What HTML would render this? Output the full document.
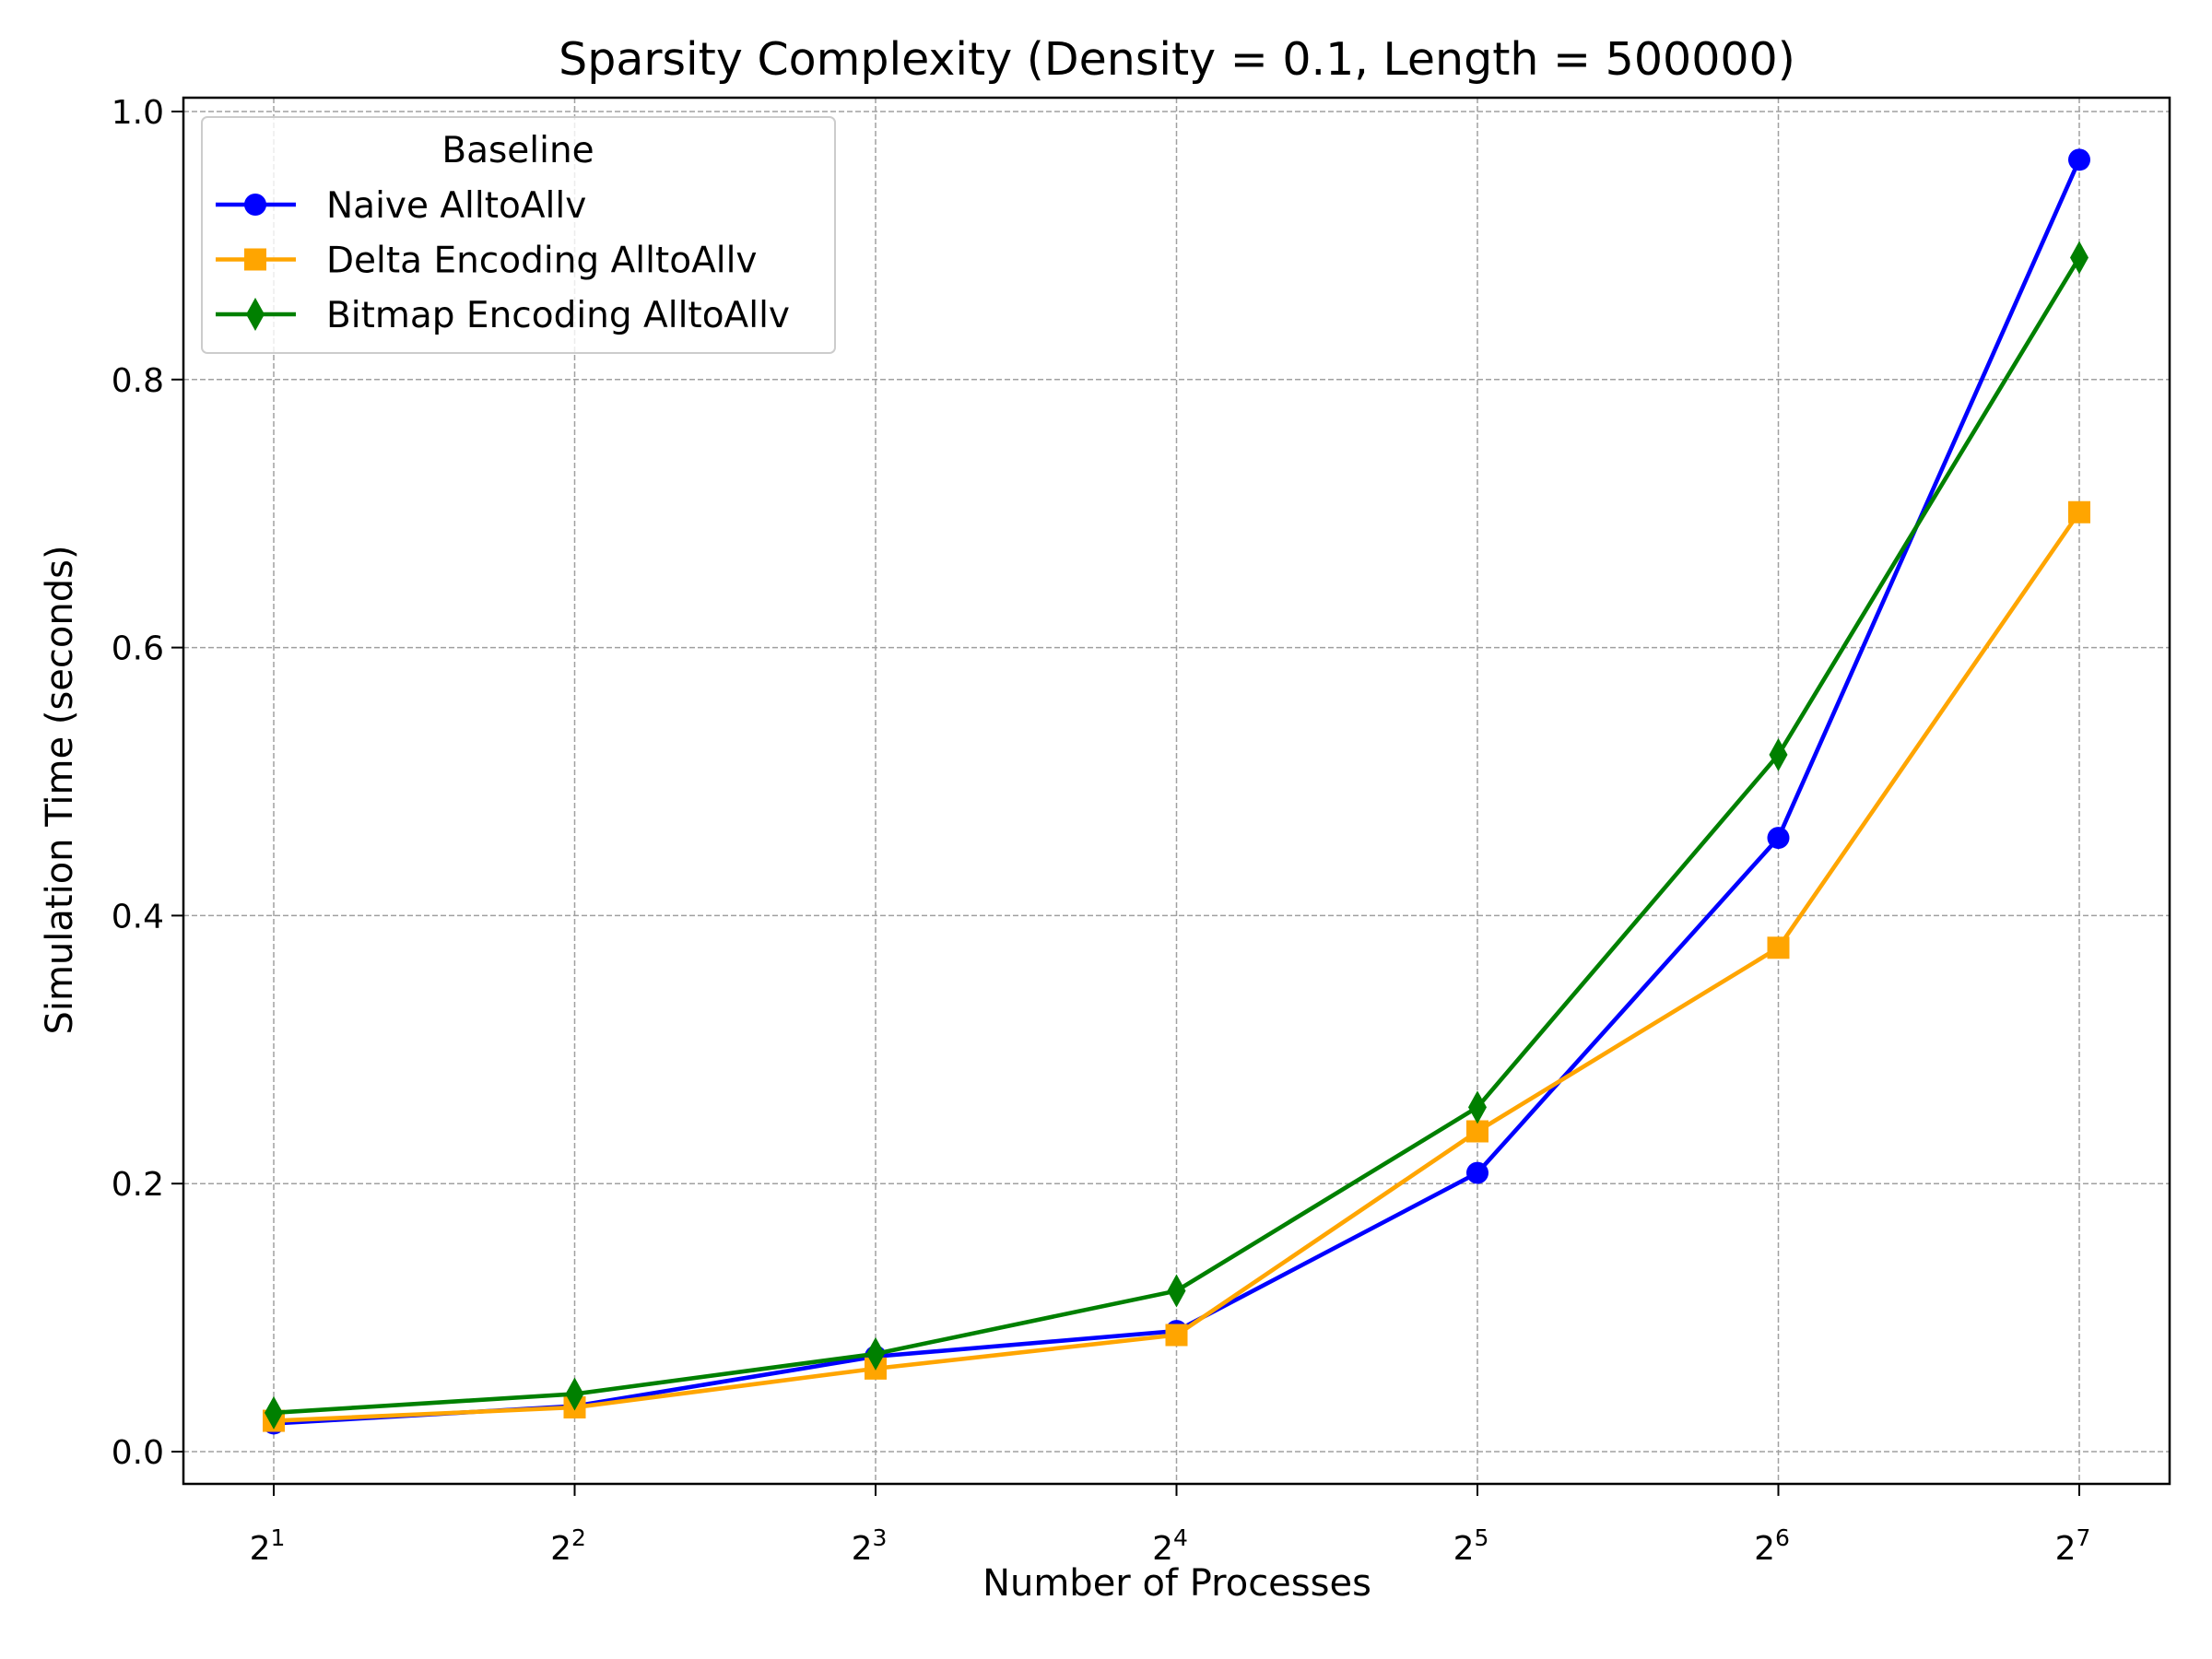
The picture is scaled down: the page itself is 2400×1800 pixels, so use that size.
<!DOCTYPE html>
<html><head><meta charset="utf-8">
<style>
html,body{margin:0;padding:0;background:#fff;}
svg{display:block;font-family:"DejaVu Sans","Liberation Sans",sans-serif;}
</style></head>
<body>
<svg id="chart" width="2400" height="1800" viewBox="0 0 2400 1800" xmlns="http://www.w3.org/2000/svg">
<rect width="2400" height="1800" fill="#fff"/>
<text x="1277" y="81" font-size="49" text-anchor="middle">Sparsity Complexity (Density = 0.1, Length = 500000)</text>
<text x="1277" y="1731" font-size="40" text-anchor="middle">Number of Processes</text>
<text x="0" y="0" font-size="40" text-anchor="middle" transform="translate(78,857) rotate(-90)">Simulation Time (seconds)</text>
<g id="grid"></g>
<g id="ticks"></g>
<g id="series"></g>
<rect x="199" y="106" width="2155" height="1504" fill="none" stroke="#000" stroke-width="2.5"/>
<g id="legend"></g>
</svg>
<script>
const exponents = [1,2,3,4,5,6,7];
const naive = [0.021,0.034,0.071,0.090,0.208,0.458,0.964];
const delta = [0.023,0.033,0.062,0.087,0.239,0.376,0.701];
const bitmap = [0.029,0.043,0.073,0.120,0.257,0.520,0.891];
const yTicks = [0.0,0.2,0.4,0.6,0.8,1.0];
const yTickLabels = ["0.0","0.2","0.4","0.6","0.8","1.0"];
const seriesNames = ["Naive AlltoAllv","Delta Encoding AlltoAllv","Bitmap Encoding AlltoAllv"];

const NS="http://www.w3.org/2000/svg";
function xs(e){return 297+(e-1)*(2256-297)/6;}
function ys(v){return 1575-v*(1575-121);}
function mk(tag,attrs,parent){const el=document.createElementNS(NS,tag);for(const k in attrs)el.setAttribute(k,attrs[k]);parent.appendChild(el);return el;}
const grid=document.getElementById('grid'),ticks=document.getElementById('ticks'),ser=document.getElementById('series'),leg=document.getElementById('legend');

exponents.forEach(e=>{
  const x=xs(e);
  const g=mk('line',{x1:x,x2:x,y1:106,y2:1610,stroke:'#a0a0a0','stroke-width':1.5,'stroke-dasharray':'6,3'},grid);
  
  
  mk('line',{x1:x,x2:x,y1:1610,y2:1623,stroke:'#000','stroke-width':2},ticks);
  const t=mk('text',{x:x-7,y:1692,'font-size':36,'text-anchor':'middle'},ticks);
  
  
  t.textContent='2';
  const s=mk('tspan',{dy:-15,'font-size':25},t);s.textContent=String(e);
});
yTicks.forEach((v,i)=>{
  const y=ys(v);
  const g=mk('line',{x1:199,x2:2354,y1:y,y2:y,stroke:'#a0a0a0','stroke-width':1.5,'stroke-dasharray':'6,3'},grid);
  
  
  mk('line',{x1:186,x2:199,y1:y,y2:y,stroke:'#000','stroke-width':2},ticks);
  const t=mk('text',{x:178,y:y+13,'font-size':36,'text-anchor':'end'},ticks);
  
  
  t.textContent=yTickLabels[i];
});

function marker(kind,x,y,color,parent){
  let m;
  if(kind==='circle') m=mk('circle',{cx:x,cy:y,r:12,fill:color},parent);
  else if(kind==='square') m=mk('rect',{x:x-12,y:y-12,width:24,height:24,fill:color},parent);
  else m=mk('polygon',{points:`${x},${y-18} ${x+10},${y} ${x},${y+18} ${x-10},${y}`,fill:color},parent);
  return m;
}
const defs=[[naive,'#0000ff','circle','naive'],[delta,'#ffa500','square','delta'],[bitmap,'#008000','diamond','bitmap']];
defs.forEach(([data,color,kind,key])=>{
  const g=mk('g',{},ser);
  
  
  const pts=data.map((v,i)=>xs(exponents[i])+','+ys(v)).join(' ');
  const pl=mk('polyline',{points:pts,fill:'none',stroke:color,'stroke-width':4.6},g);
  
  
  data.forEach((v,i)=>{
    const m=marker(kind,xs(exponents[i]),ys(v),color,g);
    
    
  });
});

const box=mk('rect',{x:219,y:127,width:687,height:256,rx:6,fill:'#fff','fill-opacity':0.8,stroke:'#ccc','stroke-width':2},leg);


const lt=mk('text',{x:562,y:176,'font-size':39,'text-anchor':'middle'},leg);


lt.textContent='Baseline';
defs.forEach(([data,color,kind,key],i)=>{
  const y=222+i*59.5;
  const g=mk('g',{},leg);
  
  
  mk('line',{x1:234,x2:321,y1:y,y2:y,stroke:color,'stroke-width':4.6},g);
  marker(kind,277,y,color,g);
  const t=mk('text',{x:354,y:y+14,'font-size':39},g);
  t.textContent=seriesNames[i];
});
</script>
</body></html>
